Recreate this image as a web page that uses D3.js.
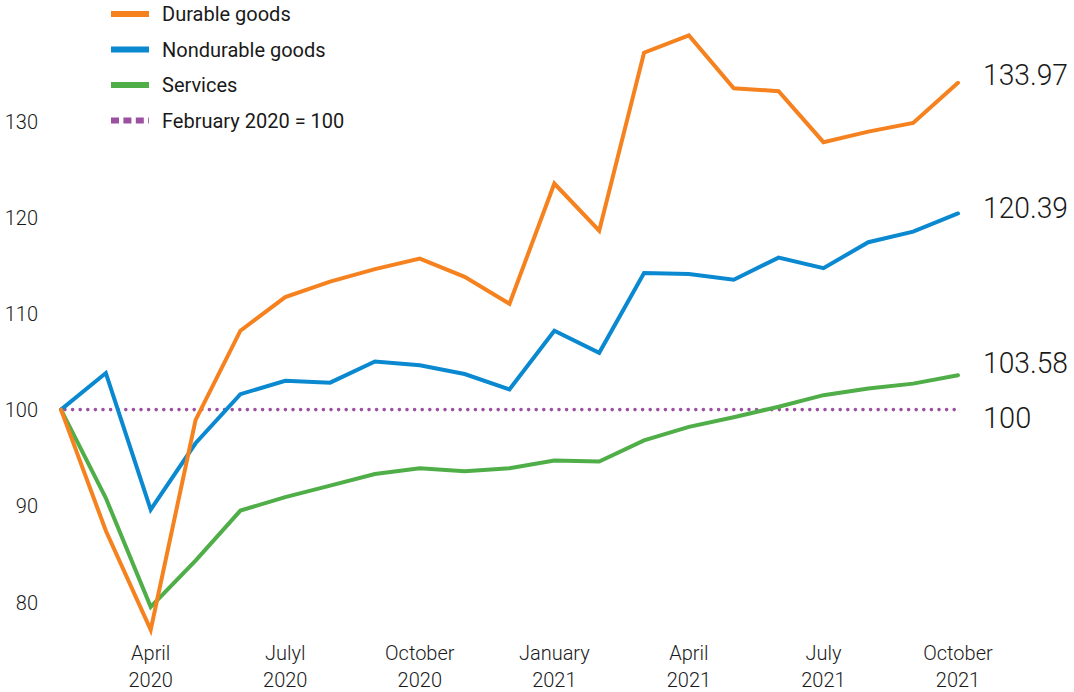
<!DOCTYPE html>
<html>
<head>
<meta charset="utf-8">
<script src="https://cdn.jsdelivr.net/npm/d3@7"></script>
<style>
  html, body { margin: 0; padding: 0; background: #fff; }
  svg { display: block; }
  text { font-family: "Roboto", "Noto Sans", sans-serif; fill: #1a1a1a; }
</style>
</head>
<body>
<div id="chart"></div>
<script>
// months from Feb 2020 to Oct 2021, index Feb 2020 = 100
const months = ["2020-02","2020-03","2020-04","2020-05","2020-06","2020-07","2020-08",
  "2020-09","2020-10","2020-11","2020-12","2021-01","2021-02","2021-03","2021-04",
  "2021-05","2021-06","2021-07","2021-08","2021-09","2021-10"];

const durable = [100, 87.4, 77.1, 98.9, 108.2, 111.7, 113.3, 114.6, 115.7, 113.8, 111.0,
  123.5, 118.6, 137.1, 138.9, 133.4, 133.1, 127.8, 128.9, 129.8, 133.97];
const nondurable = [100, 103.8, 89.6, 96.5, 101.6, 103.0, 102.8, 105.0, 104.6, 103.7, 102.1,
  108.2, 105.9, 114.2, 114.1, 113.5, 115.8, 114.7, 117.4, 118.5, 120.39];
const services = [100, 90.8, 79.5, 84.3, 89.5, 90.9, 92.1, 93.3, 93.9, 93.6, 93.9,
  94.7, 94.6, 96.8, 98.2, 99.2, 100.3, 101.5, 102.2, 102.7, 103.58];
const baseline = 100;

const yTicks = [80, 90, 100, 110, 120, 130];
const xTicks = [
  { month: "2020-04", line1: "April", line2: "2020" },
  { month: "2020-07", line1: "Julyl", line2: "2020" },
  { month: "2020-10", line1: "October", line2: "2020" },
  { month: "2021-01", line1: "January", line2: "2021" },
  { month: "2021-04", line1: "April", line2: "2021" },
  { month: "2021-07", line1: "July", line2: "2021" },
  { month: "2021-10", line1: "October", line2: "2021" }
];

const seriesNames = ["Durable goods", "Nondurable goods", "Services"];
const baselineLabel = "February 2020 = 100";
const endLabels = ["133.97", "120.39", "103.58", "100"];

const colors = { durable: "#f5821f", nondurable: "#0a88d0", services: "#4fae48", base: "#9b50a0" };

const W = 1074, H = 692;
const svg = d3.select("#chart").append("svg").attr("width", W).attr("height", H);

const x = d3.scalePoint().domain(months).range([61, 958]);
const y = d3.scaleLinear().domain([80, 130]).range([602, 121]);

// y axis labels, no line, no ticks
const yAxis = svg.append("g")
    .attr("transform", "translate(38,0)")
    .call(d3.axisLeft(y).tickValues(yTicks).tickSize(0).tickPadding(0));
yAxis.select(".domain").remove();
yAxis.selectAll("text")
    .style("font-family", null)
    .attr("font-size", 20)
    .attr("font-weight", 300)
    .attr("fill", "#1a1a1a")
    .attr("dy", "0.35em");

// x labels (two lines)
const xl = svg.append("g").selectAll("text").data(xTicks).join("text")
    .attr("x", d => x(d.month))
    .attr("text-anchor", "middle")
    .attr("font-weight", 300)
    .attr("font-size", 20);
xl.append("tspan").attr("x", d => x(d.month)).attr("y", 660).text(d => d.line1);
xl.append("tspan").attr("x", d => x(d.month)).attr("y", 687).text(d => d.line2);

// baseline dotted
svg.append("line")
    .attr("x1", x(months[0]) + 4).attr("x2", x(months[months.length - 1]))
    .attr("y1", y(baseline)).attr("y2", y(baseline))
    .attr("stroke", colors.base)
    .attr("stroke-width", 3.6)
    .attr("stroke-linecap", "round")
    .attr("stroke-dasharray", "0,7.6");

const line = d3.line().x((d, i) => x(months[i])).y(d => y(d));

const drawSeries = (data, color) => {
  svg.append("path")
      .datum(data)
      .attr("fill", "none")
      .attr("stroke", color)
      .attr("stroke-width", 4)
      .attr("stroke-linejoin", "miter")
      .attr("stroke-linecap", "round")
      .attr("d", line);
};
drawSeries(services, colors.services);
drawSeries(nondurable, colors.nondurable);
drawSeries(durable, colors.durable);

// end value labels (nudged so they don't collide)
const endVals = [durable[20], nondurable[20], services[20], baseline];
const endNudge = [2, 5, -2, 18];
svg.append("g").selectAll("text").data(endLabels).join("text")
    .attr("x", 983)
    .attr("y", (d, i) => y(endVals[i]) + endNudge[i])
    .attr("font-size", 29)
    .attr("font-weight", 300)
    .attr("textLength", d => d.length > 3 ? 85 : null)
    .attr("lengthAdjust", "spacingAndGlyphs")
    .text(d => d);

// legend
const legendItems = [
  { label: seriesNames[0], color: colors.durable, dash: null },
  { label: seriesNames[1], color: colors.nondurable, dash: null },
  { label: seriesNames[2], color: colors.services, dash: null },
  { label: baselineLabel, color: colors.base, dash: "8,4.4" }
];
const legend = svg.append("g");
legendItems.forEach((d, i) => {
  const g = legend.append("g").attr("transform", `translate(0,${14 + i * 35.5})`);
  g.append("line")
      .attr("x1", 111).attr("x2", 149)
      .attr("y1", 0).attr("y2", 0)
      .attr("stroke", d.color)
      .attr("stroke-width", 6)
      .attr("stroke-dasharray", d.dash);
  g.append("text")
      .attr("x", 162).attr("y", 7)
      .attr("font-size", 20)
      .text(d.label);
});
</script>
</body>
</html>
